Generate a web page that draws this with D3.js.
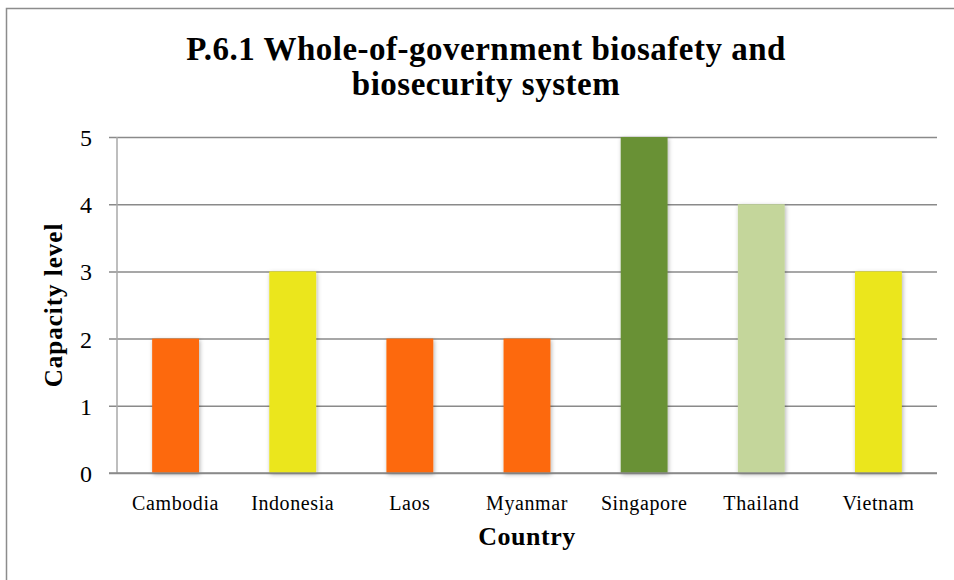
<!DOCTYPE html>
<html><head><meta charset="utf-8">
<script src="https://cdn.jsdelivr.net/npm/d3@7"></script>
<style>html,body{margin:0;padding:0;background:#fff;overflow:hidden}</style>
</head><body>
<svg id="c" width="954" height="580"></svg>
<script>
const categories = ["Cambodia","Indonesia","Laos","Myanmar","Singapore","Thailand","Vietnam"];
const values = [2,3,2,2,5,4,3];
const barColors = ["#FD690B","#EBE61E","#FD690B","#FD690B","#699134","#C4D69B","#EBE61E"];
const yTicks = [0,1,2,3,4,5];
const titleLines = ["P.6.1 Whole-of-government biosafety and","biosecurity system"];
const xTitle = "Country";
const yTitle = "Capacity level";

const svg = d3.select("#c");
const serif = "'Liberation Serif','Times New Roman',serif";

const defs = svg.append("defs");
const f = defs.append("filter").attr("id","sh").attr("x","-30%").attr("y","-10%").attr("width","160%").attr("height","130%");
f.append("feDropShadow").attr("dx",1).attr("dy",1.5).attr("stdDeviation",2).attr("flood-color","#000").attr("flood-opacity",0.3);

svg.append("rect").attr("x",6.5).attr("y",8.5).attr("width",980).attr("height",600)
  .attr("fill","#fff").attr("stroke","#8c8c8c").attr("stroke-width",1.5);

const mLeft = 117, mRight = 937, mTop = 137, mBottom = 473;
const x = d3.scaleBand().domain(categories).range([mLeft,mRight]).paddingInner(0.6).paddingOuter(0.3);
const y = d3.scaleLinear().domain([0,5]).range([mBottom,mTop]);

// gridlines
const yAxis = d3.axisLeft(y).tickValues(yTicks).tickSize(-(mRight-mLeft)).tickSizeOuter(0).tickPadding(25).tickFormat(d3.format("d"));
const ga = svg.append("g").attr("transform",`translate(${mLeft},0)`).call(yAxis);
ga.select(".domain").remove();
ga.selectAll(".tick line").attr("x1",-8).attr("stroke","#8a8a8a").attr("stroke-width",1.5);
ga.selectAll(".tick text").attr("font-family",serif).attr("font-size",24).attr("fill","#000").attr("dy","0.35em");

svg.append("line").attr("x1",mLeft).attr("x2",mLeft).attr("y1",mTop).attr("y2",mBottom)
  .attr("stroke","#a8a8a8").attr("stroke-width",1.5);

// bars
svg.append("g").selectAll("rect").data(categories).join("rect")
  .attr("x",d=>x(d)).attr("width",x.bandwidth())
  .attr("y",(d,i)=>y(values[i])).attr("height",(d,i)=>y(0)-y(values[i]))
  .attr("fill",(d,i)=>barColors[i]).attr("filter","url(#sh)");

// x axis labels
const xAxis = d3.axisBottom(x).tickSize(0).tickPadding(23);
const gx = svg.append("g").attr("transform",`translate(0,${mBottom})`).call(xAxis);
gx.select(".domain").remove();
gx.selectAll(".tick text").attr("font-family",serif).attr("font-size",20).attr("letter-spacing","0.6px").attr("fill","#000");

svg.append("line").attr("x1",mLeft-8).attr("x2",mRight).attr("y1",mBottom).attr("y2",mBottom)
  .attr("stroke","#8a8a8a").attr("stroke-width",1.5);

// titles
const t = svg.append("text").attr("text-anchor","middle").attr("font-family",serif)
  .attr("font-weight","bold").attr("font-size",33).attr("letter-spacing","0.5px").attr("fill","#000");
titleLines.forEach((l,i)=>t.append("tspan").attr("x",486).attr("y",60+i*35).text(l));

svg.append("text").attr("x",527).attr("y",545).attr("text-anchor","middle").attr("font-family",serif)
  .attr("font-weight","bold").attr("font-size",26).attr("letter-spacing","0.5px").attr("fill","#000").text(xTitle);

svg.append("text").attr("transform",`translate(62,305) rotate(-90)`).attr("text-anchor","middle")
  .attr("font-family",serif).attr("font-weight","bold").attr("font-size",25).attr("letter-spacing","1px").attr("fill","#000").text(yTitle);
</script>
</body></html>
